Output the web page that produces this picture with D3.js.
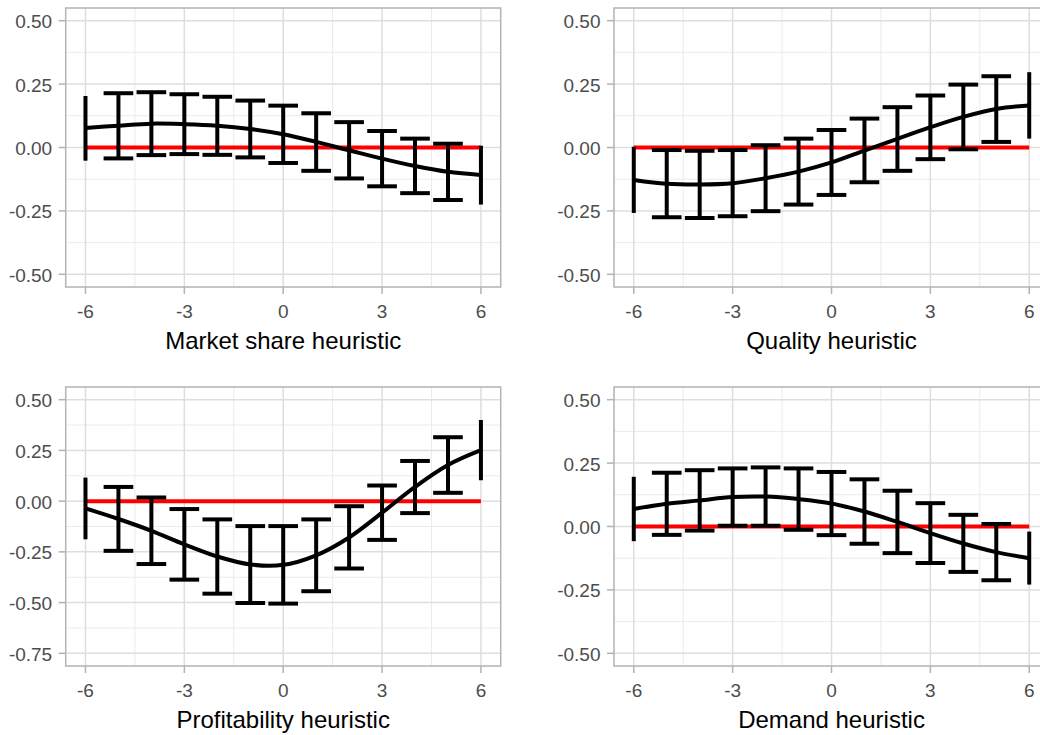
<!DOCTYPE html>
<html>
<head>
<meta charset="utf-8">
<script src="https://cdn.jsdelivr.net/npm/d3@7"></script>
<style>
  body { margin: 0; background: #ffffff; }
  svg { display: block; }
  text { font-family: "Liberation Sans", Arial, sans-serif; }
</style>
</head>
<body>
<svg id="chart" width="1040" height="735"></svg>
<script>
// Heuristic level on the x axis
const levels = [-6, -5, -4, -3, -2, -1, 0, 1, 2, 3, 4, 5, 6];
const xTickValues = [-6, -3, 0, 3, 6];

// Market share heuristic: estimate and interval bounds
const marketMean  = [0.077, 0.086, 0.094, 0.092, 0.086, 0.073, 0.052, 0.022, -0.011, -0.044, -0.073, -0.096, -0.108];
const marketLower = [-0.052, -0.043, -0.030, -0.026, -0.029, -0.039, -0.061, -0.092, -0.122, -0.153, -0.180, -0.207, -0.225];
const marketUpper = [0.203, 0.214, 0.218, 0.210, 0.200, 0.185, 0.165, 0.135, 0.100, 0.065, 0.035, 0.015, 0.007];

// Quality heuristic
const qualityMean  = [-0.128, -0.143, -0.146, -0.141, -0.121, -0.095, -0.059, -0.012, 0.034, 0.080, 0.121, 0.152, 0.166];
const qualityLower = [-0.258, -0.275, -0.278, -0.271, -0.251, -0.225, -0.187, -0.137, -0.092, -0.046, -0.007, 0.022, 0.035];
const qualityUpper = [0.003, -0.010, -0.013, -0.010, 0.009, 0.035, 0.069, 0.114, 0.159, 0.205, 0.248, 0.281, 0.297];

// Profitability heuristic
const profitMean  = [-0.036, -0.088, -0.146, -0.213, -0.273, -0.312, -0.314, -0.267, -0.179, -0.057, 0.070, 0.178, 0.251];
const profitLower = [-0.188, -0.245, -0.310, -0.387, -0.456, -0.502, -0.505, -0.444, -0.332, -0.191, -0.059, 0.041, 0.103];
const profitUpper = [0.116, 0.070, 0.018, -0.039, -0.090, -0.123, -0.123, -0.090, -0.025, 0.077, 0.198, 0.315, 0.400];

// Demand heuristic
const demandMean  = [0.069, 0.090, 0.103, 0.116, 0.118, 0.108, 0.091, 0.059, 0.018, -0.026, -0.067, -0.101, -0.125];
const demandLower = [-0.058, -0.033, -0.016, 0.003, 0.003, -0.013, -0.034, -0.068, -0.105, -0.144, -0.179, -0.212, -0.229];
const demandUpper = [0.196, 0.212, 0.222, 0.229, 0.233, 0.229, 0.215, 0.186, 0.141, 0.092, 0.046, 0.010, -0.020];

const panelTitles = ["Market share heuristic", "Quality heuristic", "Profitability heuristic", "Demand heuristic"];
const yTicksWide = [-0.5, -0.25, 0, 0.25, 0.5];
const yTicksDeep = [-0.75, -0.5, -0.25, 0, 0.25, 0.5];
const yTickLabelsWide = ["-0.50", "-0.25", "0.00", "0.25", "0.50"];
const yTickLabelsDeep = ["-0.75", "-0.50", "-0.25", "0.00", "0.25", "0.50"];

const panels = [
  { title: panelTitles[0], mean: marketMean,  lower: marketLower,  upper: marketUpper,  yTicks: yTicksWide, yLabels: yTickLabelsWide, col: 0, row: 0 },
  { title: panelTitles[1], mean: qualityMean, lower: qualityLower, upper: qualityUpper, yTicks: yTicksWide, yLabels: yTickLabelsWide, col: 1, row: 0 },
  { title: panelTitles[2], mean: profitMean,  lower: profitLower,  upper: profitUpper,  yTicks: yTicksDeep, yLabels: yTickLabelsDeep, col: 0, row: 1 },
  { title: panelTitles[3], mean: demandMean,  lower: demandLower,  upper: demandUpper,  yTicks: yTicksWide, yLabels: yTickLabelsWide, col: 1, row: 1 }
];

// Layout
const colX = [[65.7, 500.7], [614, 1049]];
const rowY = [[8, 287], [387, 666]];
const capHalf = 0.45;

const svg = d3.select("#chart");

panels.forEach(p => {
  const [x0, x1] = colX[p.col];
  const [y0, y1] = rowY[p.row];
  const tMin = d3.min(p.yTicks), tMax = d3.max(p.yTicks);
  const pad = (tMax - tMin) * 0.05;

  const x = d3.scaleLinear().domain([-6.6, 6.6]).range([x0, x1]);
  const y = d3.scaleLinear().domain([tMin - pad, tMax + pad]).range([y1, y0]);

  const g = svg.append("g");

  // minor grid
  const xMinor = xTickValues.slice(0, -1).map((v, i) => (v + xTickValues[i + 1]) / 2);
  const yMinor = p.yTicks.slice(0, -1).map((v, i) => (v + p.yTicks[i + 1]) / 2);
  g.selectAll(".xminor").data(xMinor).join("line")
    .attr("x1", d => x(d)).attr("x2", d => x(d)).attr("y1", y0).attr("y2", y1)
    .attr("stroke", "#ebebeb").attr("stroke-width", 1);
  g.selectAll(".yminor").data(yMinor).join("line")
    .attr("x1", x0).attr("x2", x1).attr("y1", d => y(d)).attr("y2", d => y(d))
    .attr("stroke", "#ebebeb").attr("stroke-width", 1);

  // major grid
  g.selectAll(".xmajor").data(xTickValues).join("line")
    .attr("x1", d => x(d)).attr("x2", d => x(d)).attr("y1", y0).attr("y2", y1)
    .attr("stroke", "#dedede").attr("stroke-width", 1.5);
  g.selectAll(".ymajor").data(p.yTicks).join("line")
    .attr("x1", x0).attr("x2", x1).attr("y1", d => y(d)).attr("y2", d => y(d))
    .attr("stroke", "#dedede").attr("stroke-width", 1.5);

  // reference line at zero
  g.append("line")
    .attr("x1", x(levels[0])).attr("x2", x(levels[levels.length - 1]))
    .attr("y1", y(0)).attr("y2", y(0))
    .attr("stroke", "#ff0000").attr("stroke-width", 4);

  // error bars
  const rows = levels.map((lv, i) => ({ lv, i, mean: p.mean[i], lo: p.lower[i], hi: p.upper[i] }));
  const eb = g.append("g").attr("stroke", "#000").attr("stroke-width", 4).attr("fill", "none");
  eb.selectAll(".stem").data(rows).join("line")
    .attr("x1", d => x(d.lv)).attr("x2", d => x(d.lv))
    .attr("y1", d => y(d.lo)).attr("y2", d => y(d.hi));
  const inner = rows.filter(d => d.i > 0 && d.i < levels.length - 1);
  eb.selectAll(".capTop").data(inner).join("line")
    .attr("x1", d => x(d.lv - capHalf)).attr("x2", d => x(d.lv + capHalf))
    .attr("y1", d => y(d.hi)).attr("y2", d => y(d.hi));
  eb.selectAll(".capBot").data(inner).join("line")
    .attr("x1", d => x(d.lv - capHalf)).attr("x2", d => x(d.lv + capHalf))
    .attr("y1", d => y(d.lo)).attr("y2", d => y(d.lo));

  // estimate curve
  const line = d3.line().x(d => x(d.lv)).y(d => y(d.mean)).curve(d3.curveCatmullRom);
  g.append("path").datum(rows).attr("d", line)
    .attr("fill", "none").attr("stroke", "#000").attr("stroke-width", 4);

  // panel border
  g.append("rect").attr("x", x0).attr("y", y0).attr("width", x1 - x0).attr("height", y1 - y0)
    .attr("fill", "none").attr("stroke", "#b3b3b3").attr("stroke-width", 1.5);

  // x axis ticks and labels
  g.selectAll(".xtick").data(xTickValues).join("line")
    .attr("x1", d => x(d)).attr("x2", d => x(d)).attr("y1", y1).attr("y2", y1 + 7)
    .attr("stroke", "#b3b3b3").attr("stroke-width", 1.5);
  g.selectAll(".xlab").data(xTickValues).join("text")
    .attr("x", d => x(d)).attr("y", y1 + 31.3)
    .attr("text-anchor", "middle").attr("font-size", 19).attr("fill", "#4d4d4d")
    .text(d => d);

  // y axis ticks and labels
  g.selectAll(".ytick").data(p.yTicks).join("line")
    .attr("x1", x0 - 7).attr("x2", x0).attr("y1", d => y(d)).attr("y2", d => y(d))
    .attr("stroke", "#b3b3b3").attr("stroke-width", 1.5);
  g.selectAll(".ylab").data(p.yTicks).join("text")
    .attr("x", x0 - 13.5).attr("y", d => y(d) + 7.5)
    .attr("text-anchor", "end").attr("font-size", 19).attr("fill", "#4d4d4d")
    .text((d, i) => p.yLabels[i]);

  // axis title
  g.append("text")
    .attr("x", (x0 + x1) / 2).attr("y", y1 + 62)
    .attr("text-anchor", "middle").attr("font-size", 24).attr("fill", "#000")
    .text(p.title);
});
</script>
</body>
</html>
